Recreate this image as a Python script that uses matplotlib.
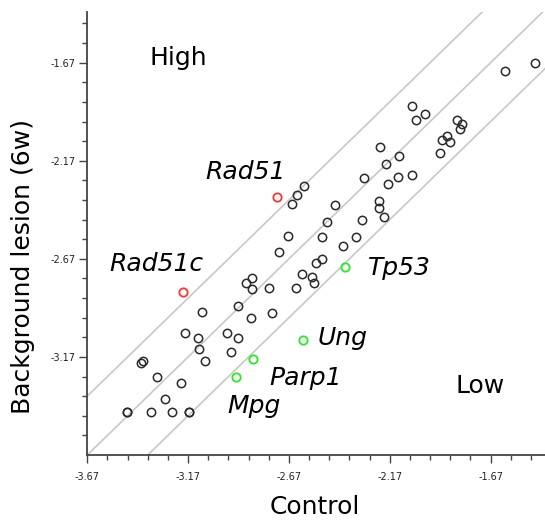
import matplotlib
matplotlib.use("Agg")
import matplotlib.pyplot as plt
import numpy as np

# control vs background lesion (6w), log values
control = [-1.450, -1.599, -2.062, -2.042, -1.996, -1.837, -1.812, -1.822, -1.888, -1.911,
           -1.872, -1.921, -2.217, -2.125, -2.191, -2.062, -2.130, -2.179, -2.300, -2.594,
           -2.629, -2.655, -2.442, -2.224, -2.224, -2.199, -2.482, -2.310, -2.676, -2.505,
           -2.339, -2.401, -2.718, -2.508, -2.536, -2.607, -2.554, -2.548, -2.635, -2.769,
           -2.855, -2.885, -2.855, -3.099, -2.924, -2.756, -2.857, -3.186, -3.120, -2.979,
           -2.924, -3.115, -2.958, -3.085, -3.392, -3.405, -3.326, -3.207, -3.285, -3.475,
           -3.475, -3.356, -3.249, -3.164, -3.164]
lesion = [-1.670, -1.711, -1.893, -1.961, -1.930, -1.961, -1.985, -2.007, -2.042, -2.066,
          -2.073, -2.128, -2.099, -2.148, -2.184, -2.245, -2.252, -2.287, -2.258, -2.298,
          -2.347, -2.389, -2.394, -2.374, -2.410, -2.456, -2.480, -2.473, -2.556, -2.559,
          -2.558, -2.605, -2.633, -2.672, -2.689, -2.745, -2.760, -2.794, -2.820, -2.820,
          -2.768, -2.791, -2.825, -2.939, -2.908, -2.944, -2.972, -3.046, -3.075, -3.046,
          -3.075, -3.131, -3.143, -3.190, -3.189, -3.202, -3.270, -3.304, -3.384, -3.449,
          -3.449, -3.449, -3.449, -3.449, -3.449]

# highlighted genes
up_genes = ["Rad51", "Rad51c"]
up_x = [-2.731, -3.193]
up_y = [-2.355, -2.841]
down_genes = ["Tp53", "Ung", "Parp1", "Mpg"]
down_x = [-2.394, -2.602, -2.850, -2.933]
down_y = [-2.714, -3.083, -3.182, -3.270]

offsets = [0.3, 0.0, -0.3]
major = [-3.67, -3.17, -2.67, -2.17, -1.67]
major_labels = ["-3.67", "-3.17", "-2.67", "-2.17", "-1.67"]

fig = plt.figure(figsize=(5.45, 5.2), dpi=100)
ax = fig.add_axes([0.1602, 0.125, 0.8398, 0.8525])

xx = np.array([-4.2, -1.0])
for off in offsets:
    ax.plot(xx, xx + off, color="#c8c8c8", lw=1.2, zorder=1)

ax.plot(control, lesion, "o", ms=6, mfc="none", mec="#2a2a2a", mew=1.1, zorder=3)
ax.plot(up_x, up_y, "o", ms=6, mfc="none", mec="#ff3333", mew=1.3, zorder=3)
ax.plot(down_x, down_y, "o", ms=6, mfc="none", mec="#22ee22", mew=1.3, zorder=3)

lab = dict(fontsize=18, style="italic", va="baseline", ha="left")
ax.text(-3.086, -2.263, "Rad51", **lab)
ax.text(-3.560, -2.730, "Rad51c", **lab)
ax.text(-2.276, -2.752, "Tp53", **lab)
ax.text(-2.526, -3.109, "Ung", **lab)
ax.text(-2.767, -3.313, "Parp1", **lab)
ax.text(-2.974, -3.457, "Mpg", **lab)
ax.text(-3.362, -1.680, "High", fontsize=18, va="baseline", ha="left")
ax.text(-1.846, -3.355, "Low", fontsize=18, va="baseline", ha="left")

ax.set_xlim(-3.67, -1.40)
ax.set_ylim(-3.67, -1.41)

ax.set_xticks(major)
ax.set_xticklabels(major_labels)
ax.set_yticks(major[1:])
ax.set_yticklabels(major_labels[1:])
minor = [round(-3.67 + 0.1 * i, 2) for i in range(1, 23) if i % 5 != 0]
ax.set_xticks(minor, minor=True)
ax.set_yticks(minor, minor=True)
ax.tick_params(which="major", length=5.5, width=1.0, color="#444444", labelsize=7,
               labelcolor="#222222", pad=3)
ax.tick_params(which="minor", length=3.5, width=1.0, color="#444444")
ax.tick_params(axis="x", which="major", pad=7)

for s in ["top", "right"]:
    ax.spines[s].set_visible(False)
for s in ["left", "bottom"]:
    ax.spines[s].set_color("#444444")
    ax.spines[s].set_linewidth(1.3)

fig.text(314.5 / 545, 1 - 507 / 520, "Control", fontsize=18, ha="center", va="center")
fig.text(23.5 / 545, 1 - 266.5 / 520, "Background lesion (6w)", fontsize=18,
         rotation=90, ha="center", va="center")

fig.savefig("out.png", dpi=100)
